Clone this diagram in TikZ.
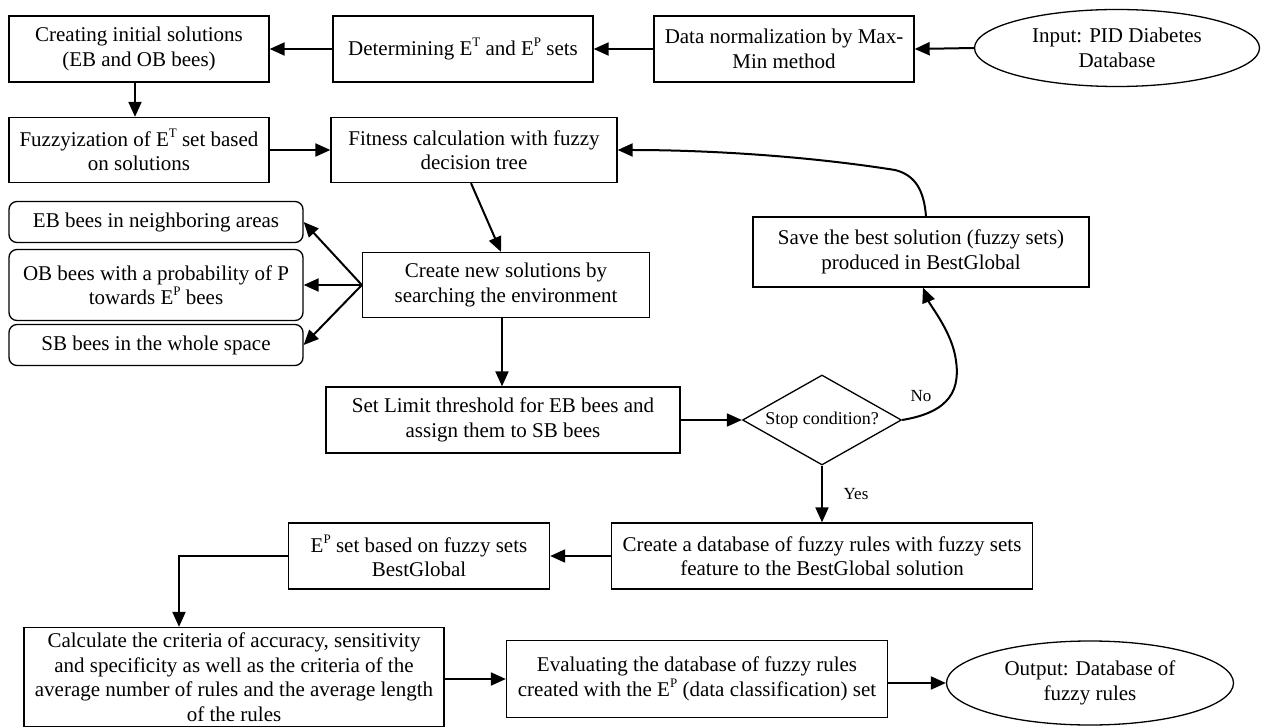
\documentclass[tikz,border=0pt]{standalone}
\usepackage{fontspec}
\setmainfont{Liberation Serif}
\usetikzlibrary{shapes.geometric,arrows.meta}
\newcommand\supr[1]{\raisebox{0.42em}{\fontsize{13}{13}\selectfont #1}}
\begin{document}
\begin{tikzpicture}[x=1pt,y=-1pt,
 txt/.style={font=\fontsize{21}{24.5}\selectfont},
 box/.style={draw, line width=1.3pt, align=center, inner sep=2pt, txt},
 bee/.style={box, rounded corners=8pt},
 oval/.style={draw, ellipse, line width=1.3pt, align=center, inner sep=0pt, txt},
 arr/.style={line width=2pt, -{Triangle[length=15pt,width=13pt]}},
 lbl/.style={font=\fontsize{17}{20}\selectfont, inner sep=0pt}]
\useasboundingbox (0,0) rectangle (1261,727);

\node[box, minimum width=260pt, minimum height=66pt] (init) at (139,49) {Creating initial solutions\\(EB and OB bees)};
\node[box, minimum width=260pt, minimum height=66pt] (determ) at (463,49) {Determining E\supr{T} and E\supr{P} sets};
\node[box, minimum width=260pt, minimum height=66pt] (norm) at (784,49) {Data normalization by Max-\\Min method};
\node[oval, minimum width=285pt, minimum height=77pt] (input) at (1117,48) {Input: PID Diabetes\\Database};

\node[box, minimum width=260pt, minimum height=65pt] (fuzz) at (139,150) {Fuzzyization of E\supr{T} set based\\on solutions};
\node[box, minimum width=286pt, minimum height=65pt] (fit) at (474,150) {Fitness calculation with fuzzy\\decision tree};

\node[bee, minimum width=294pt, minimum height=41pt] (eb) at (156,222) {EB bees in neighboring areas};
\node[bee, minimum width=294pt, minimum height=71pt] (ob) at (156,285) {OB bees with a probability of P\\towards E\supr{P} bees};
\node[bee, minimum width=294pt, minimum height=41pt] (sb) at (156,345) {SB bees in the whole space};

\node[box, minimum width=287pt, minimum height=65pt] (newsol) at (506,285) {Create new solutions by\\searching the environment};
\node[box, minimum width=336pt, minimum height=70pt] (save) at (921,252) {Save the best solution (fuzzy sets)\\produced in BestGlobal};

\node[box, minimum width=354pt, minimum height=66pt] (limit) at (503,420) {Set Limit threshold for EB bees and\\assign them to SB bees};
\node[draw, diamond, aspect=1.77, line width=1.3pt, minimum width=159pt, minimum height=90pt, inner sep=0pt, font=\fontsize{18}{20}\selectfont] (stop) at (822,420) {Stop condition?};

\node[box, minimum width=421pt, minimum height=66pt] (db) at (822,556) {Create a database of fuzzy rules with fuzzy sets\\feature to the BestGlobal solution};
\node[box, minimum width=261pt, minimum height=66pt] (ep) at (419,556) {E\supr{P} set based on fuzzy sets\\BestGlobal};

\node[box, minimum width=420pt, minimum height=99pt] (calc) at (234,677) {Calculate the criteria of accuracy, sensitivity\\and specificity as well as the criteria of the\\average number of rules and the average length\\of the rules};
\node[box, minimum width=381pt, minimum height=77pt] (eval) at (697,679) {Evaluating the database of fuzzy rules\\created with the E\supr{P} (data classification) set};
\node[oval, minimum width=287pt, minimum height=84pt] (out) at (1090,683) {Output: Database of\\fuzzy rules};

\node[lbl] (nolbl) at (921,396) {No};
\node[lbl] (yeslbl) at (856,494) {Yes};

% connectors
\draw[arr] (input.west) -- (norm.east);
\draw[arr] (norm.west) -- (determ.east);
\draw[arr] (determ.west) -- (init.east);
\draw[arr] ([xshift=-4pt]init.south) -- ([xshift=-4pt]fuzz.north);
\draw[arr] (fuzz.east) -- (fit.west);
\draw[arr] ([xshift=-3pt]fit.south) -- ([xshift=-5pt]newsol.north);
\draw[arr] (newsol.west) -- (eb.east);
\draw[arr] (newsol.west) -- (ob.east);
\draw[arr] (newsol.west) -- (sb.east);
\draw[arr] ([xshift=-4pt]newsol.south) -- ([xshift=-1pt]limit.north);
\draw[arr] (limit.east) -- (stop.west);
\draw[arr] (stop.east) .. controls (950,412) and (962,390) .. (955,355)
   .. controls (950,330) and (930,305) .. ([xshift=2pt]save.south);
\draw[arr] ([xshift=5pt]save.north) .. controls (924,190) and (915,175) .. (895,170)
   .. controls (800,155) and (700,150) .. (fit.east);
\draw[arr] (stop.south) -- (db.north);
\draw[arr] (db.west) -- (ep.east);
\draw[arr] (ep.west) -| ([xshift=-55pt]calc.north);
\draw[arr] (calc.east |- eval.west) -- (eval.west);
\draw[arr] (eval.east |- out.west) -- (out.west);
\end{tikzpicture}
\end{document}
